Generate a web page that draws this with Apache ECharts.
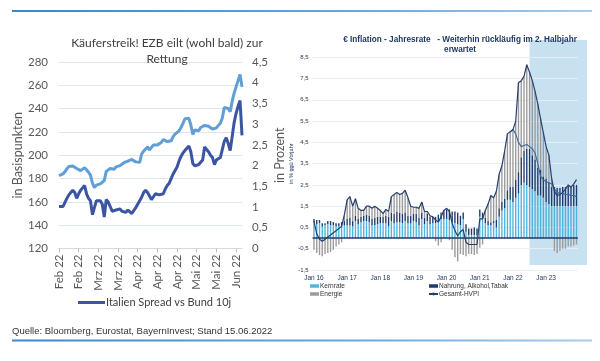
<!DOCTYPE html>
<html><head><meta charset="utf-8">
<script src="https://cdn.jsdelivr.net/npm/echarts@6/dist/echarts.min.js"></script>
<style>html,body{margin:0;padding:0;background:#fff}#c{width:600px;height:361px}</style>
</head><body><div id="c"></div>
<script>
// ---------- DATA ----------
const monthNamesDE = ['Jan','Feb','Mrz','Apr','Mai','Jun','Jul','Aug','Sep','Okt','Nov','Dez'];

// Left chart: business days 04.02.2022 – 15.06.2022
const spreadDates = [];
(function(){
  let t = Date.UTC(2022,1,4); const end = Date.UTC(2022,5,15);
  while (t <= end) { const d = new Date(t); const wd = d.getUTCDay();
    if (wd !== 0 && wd !== 6) spreadDates.push(d.toISOString().slice(0,10));
    t += 86400000; }
})();

// Italien Spread vs Bund 10j (Basispunkte)
const spreadBp = [156,157,156,155,163,166,168,170,168,163,167,170,172,174,167,163,161,149,155,161,
  162,161,158,147,162,160,156,152,152,153,153,154,152,153,151,153,152,150,151,155,
  158,159,164,168,170,168,165,162,163,167,167,166,166,167,171,174,176,180,184,187,
  190,195,199,202,204,206,208,203,193,191,192,192,193,196,207,205,203,200,198,192,
  196,197,198,205,212,215,210,204,216,228,236,242,247,217];

// Rendite Italien 10j (Prozent)
const yieldPct = [1.76,1.78,1.80,1.85,1.92,1.98,1.99,1.99,1.97,1.93,1.89,1.88,1.91,1.95,1.90,1.84,1.77,1.58,1.47,1.53,
  1.54,1.56,1.57,1.64,1.86,1.90,1.93,1.89,1.91,1.97,1.98,2.00,2.03,2.07,2.10,2.11,2.13,2.15,2.12,2.09,
  2.11,2.08,2.28,2.35,2.40,2.45,2.38,2.44,2.50,2.51,2.50,2.53,2.56,2.63,2.62,2.58,2.55,2.60,2.70,2.76,
  2.80,2.84,2.92,3.02,3.13,3.15,3.14,2.98,2.75,2.86,2.83,2.84,2.92,2.94,2.97,2.93,2.95,2.93,2.88,2.88,
  2.91,2.97,3.02,3.15,3.40,3.42,3.38,3.30,3.55,3.75,3.90,4.05,4.20,3.90];

const leftTitle = 'Käuferstreik! EZB eilt (wohl bald) zur\nRettung';
const rightTitle = '€ Inflation - Jahresrate   - Weiterhin rückläufig im 2. Halbjahr\nerwartet';
const sourceText = 'Quelle: Bloomberg, Eurostat, BayernInvest; Stand 15.06.2022';

// Right chart: months Jan 2016 – Dec 2023
const hvpiMonths = [];
for (let y = 16; y <= 23; y++) for (let m = 0; m < 12; m++) hvpiMonths.push(monthNamesDE[m] + ' ' + y);
const forecastStart = 'Jul 22';

const kernrate = [
  0.75,0.65,0.7,0.55,0.6,0.65,0.6,0.6,0.55,0.55,0.6,0.6,
  0.6,0.6,0.55,0.8,0.65,0.75,0.8,0.8,0.75,0.6,0.6,0.65,
  0.7,0.7,0.7,0.55,0.8,0.7,0.75,0.75,0.7,0.8,0.7,0.7,
  0.8,0.75,0.6,0.9,0.65,0.8,0.65,0.7,0.7,0.8,0.9,0.9,
  0.9,0.85,0.75,0.7,0.65,0.6,0.9,0.3,0.15,0.15,0.15,0.15,
  1.0,0.9,0.7,0.6,0.6,0.7,0.5,1.0,1.3,1.4,1.8,1.8,
  1.7,1.9,2.1,2.5,2.6,2.5,2.4,2.3,2.2,2.0,2.0,1.9,
  1.7,1.6,1.5,1.5,1.5,1.5,1.5,1.5,1.5,1.5,1.5,1.5];
const nahrung = [
  0.15,0.2,0.15,0.15,0.1,0.15,0.2,0.15,0.15,0.15,0.15,0.2,
  0.3,0.35,0.25,0.25,0.25,0.25,0.25,0.3,0.3,0.3,0.35,0.35,
  0.3,0.3,0.35,0.45,0.4,0.45,0.5,0.45,0.45,0.4,0.35,0.35,
  0.35,0.4,0.35,0.3,0.3,0.35,0.35,0.3,0.3,0.3,0.3,0.4,
  0.45,0.5,0.5,0.55,0.55,0.45,0.3,0.35,0.3,0.3,0.35,0.3,
  0.35,0.3,0.25,0.2,0.15,0.1,0.35,0.4,0.4,0.45,0.45,0.6,
  0.7,0.85,1.0,1.3,1.5,1.7,1.8,1.6,1.5,1.3,1.2,1.0,
  1.1,1.0,0.9,0.9,0.85,0.85,0.9,0.9,0.95,0.95,1.0,1.0];
const energie = [
  -0.55,-0.7,-0.8,-0.85,-0.75,-0.7,-0.65,-0.55,-0.4,-0.3,-0.2,0.25,
  0.9,1.0,0.7,0.8,0.5,0.3,0.25,0.4,0.45,0.5,0.55,0.4,
  0.3,0.15,0.3,0.25,0.75,0.9,0.9,0.85,0.95,1.05,0.85,0.45,
  0.3,0.3,0.45,0.5,0.3,0.1,0.05,0.0,-0.15,-0.35,-0.2,0.0,
  0.05,-0.1,-0.55,-0.9,-1.1,-0.75,-0.8,-0.85,-0.75,-0.75,-0.8,-0.75,
  -0.45,-0.3,0.35,0.8,1.25,1.1,1.35,1.6,1.7,2.25,2.65,2.6,
  2.7,2.75,4.2,3.6,3.5,3.95,3.6,3.5,3.2,3.0,2.4,2.05,
  1.5,1.3,0.4,-0.6,-0.7,-0.6,-0.5,-0.5,-0.4,-0.4,-0.35,-0.3];
const gesamt = [
  0.8,0.2,-0.05,-0.15,-0.05,0.05,0.15,0.25,0.35,0.45,0.55,1.1,
  1.8,1.95,1.5,1.85,1.4,1.3,1.3,1.5,1.5,1.4,1.5,1.4,
  1.3,1.15,1.35,1.25,1.95,2.05,2.15,2.05,2.1,2.25,1.9,1.5,
  1.45,1.45,1.4,1.7,1.25,1.25,1.05,1.0,0.85,0.75,1.0,1.3,
  1.4,1.25,0.7,0.35,0.1,0.3,0.4,-0.2,-0.3,-0.3,-0.3,-0.3,
  0.9,0.9,1.3,1.6,2.0,1.9,2.2,3.0,3.4,4.1,4.9,5.0,
  5.1,5.5,7.3,7.4,7.6,8.15,7.8,7.4,6.9,6.3,5.6,4.95,
  4.3,3.9,2.8,2.2,2.0,2.05,2.15,2.3,2.5,2.4,2.55,2.75];
const gesamtAlt = new Array(71).fill(null).concat([
  5.0,5.1,4.9,4.5,4.3,4.35,4.4,4.3,4.2,4.0,3.5,2.9,2.75,2.65,2.6,2.55,
  2.3,2.15,2.1,2.1,2.05,2.05,2.0,2.0,1.95]);

// ---------- CHART ----------
const chart = echarts.init(document.getElementById('c'), null, {renderer: 'canvas'});
const F = 'Lato, "Open Sans", sans-serif';
const A = '"Liberation Sans", Arial, sans-serif';
const comma = v => String(v).replace('.', ',');
const grad = () => new echarts.graphic.LinearGradient(0,0,1,0,[
  {offset:0,color:'#3f86c6'},{offset:0.6,color:'#6aa7da'},{offset:1,color:'#a9cdec'}]);

const option = {
  animation: false,
  backgroundColor: '#ffffff',
  title: [
    {text: leftTitle, left: 162, top: 30, textAlign: 'center',
     textStyle: {fontFamily: F, fontSize: 12, fontWeight: 'normal', color: '#404040', lineHeight: 16}},
    {text: rightTitle, left: 455, top: 30, textAlign: 'center',
     textStyle: {fontFamily: A, fontSize: 8.2, fontWeight: 'bold', color: '#1f3864', lineHeight: 9.5}}
  ],
  legend: [
    {data: [{name: 'Italien Spread vs Bund 10j', icon: 'rect'}], left: 73, top: 292,
     itemWidth: 27, itemHeight: 3, itemGap: 2,
     textStyle: {fontFamily: F, fontSize: 11, color: '#404040', padding: [0,0,0,-4]}},
    {data: [{name: 'Kernrate', icon: 'rect'}, {name: 'Energie', icon: 'rect'}], orient: 'vertical',
     left: 310, top: 282, itemWidth: 9, itemHeight: 3.5, itemGap: 0, padding: 0,
     textStyle: {fontFamily: A, fontSize: 6.5, color: '#333', padding: [0,0,0,-4], lineHeight: 8}},
    {data: [{name: 'Nahrung, Alkohol,Tabak', icon: 'rect'}, 'Gesamt-HVPI'], orient: 'vertical',
     left: 428, top: 282, itemWidth: 9, itemHeight: 3.5, itemGap: 0, padding: 0,
     textStyle: {fontFamily: A, fontSize: 6.5, color: '#333', padding: [0,0,0,-4], lineHeight: 8}}
  ],
  grid: [
    {left: 59, top: 62, width: 183, height: 186.5},
    {left: 312.6, top: 57.3, width: 265.3, height: 212.7}
  ],
  xAxis: [
    {type: 'category', gridIndex: 0, data: spreadDates, boundaryGap: false,
     axisLine: {lineStyle: {color: '#d9d9d9'}},
     axisTick: {interval: 9, length: 4, lineStyle: {color: '#bfbfbf'}},
     axisLabel: {interval: 9, rotate: 90, margin: 6, fontFamily: F, fontSize: 11.5, color: '#595959',
       formatter: v => monthNamesDE[+v.slice(5,7) - 1] + ' ' + v.slice(2,4)}},
    {type: 'category', gridIndex: 1, data: hvpiMonths, boundaryGap: true,
     axisLine: {show: false, onZero: false}, axisTick: {show: false},
     axisLabel: {interval: 11, margin: 5, fontFamily: A, fontSize: 6.5, color: '#1f3864'}}
  ],
  yAxis: [
    {type: 'value', gridIndex: 0, min: 120, max: 280, interval: 20,
     name: 'in Basispunkten', nameLocation: 'middle', nameGap: 31,
     nameTextStyle: {fontFamily: F, fontSize: 12.5, color: '#595959'},
     axisLabel: {margin: 11, fontFamily: F, fontSize: 11.5, color: '#595959'},
     axisLine: {show: false}, axisTick: {show: false},
     splitLine: {lineStyle: {color: '#dfe5ec'}}},
    {type: 'value', gridIndex: 0, position: 'right', min: 0, max: 4.5, interval: 0.5,
     name: 'in Prozent', nameLocation: 'middle', nameGap: 31, nameRotate: 90,
     nameTextStyle: {fontFamily: F, fontSize: 12.5, color: '#595959'},
     axisLabel: {margin: 10, fontFamily: F, fontSize: 11.5, color: '#595959', formatter: comma},
     axisLine: {show: false}, axisTick: {show: false}, splitLine: {show: false}},
    {type: 'value', gridIndex: 1, min: -1.5, max: 8.5, interval: 1,
     name: 'in % ggü Vorjahr', nameLocation: 'middle', nameGap: 15,
     nameTextStyle: {fontFamily: A, fontSize: 5.5, color: '#1f3864'},
     axisLabel: {margin: 4, fontFamily: A, fontSize: 6, color: '#1f3864', formatter: comma},
     axisLine: {show: false}, axisTick: {show: false},
     splitLine: {lineStyle: {color: '#e8eef4'}}}
  ],
  series: [
    {name: 'Rendite Italien 10j', type: 'line', xAxisIndex: 0, yAxisIndex: 1, data: yieldPct,
     symbol: 'none', lineStyle: {width: 3, color: '#5f9fd6'}, itemStyle: {color: '#5f9fd6'}, z: 3},
    {name: 'Italien Spread vs Bund 10j', type: 'line', xAxisIndex: 0, yAxisIndex: 0, data: spreadBp,
     symbol: 'none', lineStyle: {width: 3, color: '#3b55a2'}, itemStyle: {color: '#3b55a2'}, z: 4},
    {name: 'Kernrate', type: 'bar', xAxisIndex: 1, yAxisIndex: 2, stack: 'h', data: kernrate,
     barWidth: '50%', itemStyle: {color: '#4fb4e0'}},
    {name: 'Nahrung, Alkohol,Tabak', type: 'bar', xAxisIndex: 1, yAxisIndex: 2, stack: 'h', data: nahrung,
     barWidth: '50%', itemStyle: {color: '#1f3a6e'}},
    {name: 'Energie', type: 'bar', xAxisIndex: 1, yAxisIndex: 2, stack: 'h', data: energie,
     barWidth: '50%', itemStyle: {color: '#9b9b9b'}},
    {name: 'Prognose alt', type: 'line', xAxisIndex: 1, yAxisIndex: 2, data: gesamtAlt,
     symbol: 'none', lineStyle: {width: 1.1, color: '#41649c'}, itemStyle: {color: '#41649c'}, z: 5},
    {name: 'Gesamt-HVPI', type: 'line', xAxisIndex: 1, yAxisIndex: 2, data: gesamt,
     symbol: 'none', lineStyle: {width: 1.2, color: '#263f6e'}, itemStyle: {color: '#263f6e'}, z: 6,
     markLine: {silent: true, symbol: 'none', label: {show: false},
       lineStyle: {color: '#1f3864', width: 1.5, type: 'solid'}, data: [{yAxis: 0}]}}
  ]
};
chart.setOption(option);

// decorative frame lines, source text and forecast shading
const shadeX = chart.convertToPixel({xAxisIndex: 1}, forecastStart);
chart.setOption({
  graphic: [
    {type: 'rect', z: -1, shape: {x: shadeX, y: 40, width: 587 - shadeX, height: 225},
     style: {fill: '#c8e1f1'}},
    {type: 'line', shape: {x1: 12, y1: 11, x2: 592, y2: 11}, style: {stroke: grad(), lineWidth: 2.2}},
    {type: 'line', shape: {x1: 12, y1: 340.5, x2: 592, y2: 340.5}, style: {stroke: grad(), lineWidth: 2.2}},
    {type: 'text', left: 12, top: 326, style: {text: sourceText, font: '9.5px "Liberation Sans", Arial, sans-serif', fill: '#333'}}
  ]
});
</script></body></html>
